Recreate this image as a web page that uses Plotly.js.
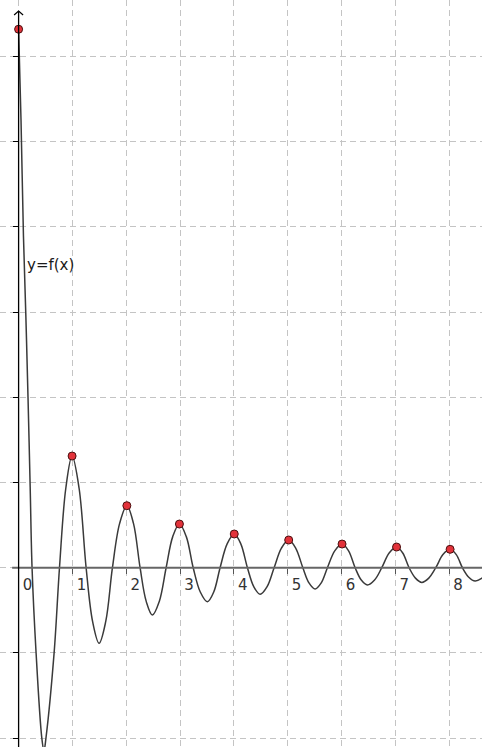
<!DOCTYPE html>
<html>
<head>
<meta charset="utf-8">
<script src="https://cdn.plot.ly/plotly-3.0.1.min.js"></script>
<style>html,body{margin:0;padding:0;background:#fff;}#chart{width:482px;height:747px;}</style>
</head>
<body>
<div id="chart"></div>
<script>
// Curve samples (x, y in grid units)
const curveX = [0, 0.045, 0.09, 0.135, 0.175, 0.215, 0.25, 0.325, 0.43, 0.471, 0.51, 0.66, 0.76, 0.877, 0.994,
  1.125, 1.255, 1.375, 1.496, 1.62, 1.744, 1.878, 2.012, 2.135, 2.258, 2.372, 2.487, 2.615, 2.742,
  2.865, 2.989, 3.117, 3.245, 3.377, 3.509, 3.627, 3.745, 3.876, 4.008, 4.13, 4.253, 4.371, 4.489, 4.619, 4.749,
  4.885, 5.02, 5.15, 5.283, 5.397, 5.511, 5.625, 5.74, 5.876, 6.012, 6.133, 6.255, 6.369, 6.483, 6.616, 6.75,
  6.887, 7.025, 7.14, 7.258, 7.376, 7.494, 7.624, 7.754, 7.887, 8.02, 8.135, 8.249, 8.367, 8.485, 8.62];
const curveY = [6.32, 5.25, 3.9, 2.95, 2.0, 0.95, 0, -1.0, -1.99, -2.15, -1.99, -1.0, 0, 0.93, 1.311,
  0.93, 0, -0.63, -0.887, -0.63, 0, 0.52, 0.728, 0.52, 0, -0.395, -0.555, -0.395, 0,
  0.365, 0.513, 0.365, 0, -0.285, -0.40, -0.285, 0, 0.28, 0.396, 0.28, 0, -0.222, -0.312, -0.222, 0,
  0.23, 0.325, 0.23, 0, -0.178, -0.25, -0.178, 0, 0.198, 0.278, 0.198, 0, -0.145, -0.203, -0.145, 0,
  0.173, 0.243, 0.173, 0, -0.122, -0.172, -0.122, 0, 0.154, 0.216, 0.154, 0, -0.111, -0.156, -0.12];
// Red points (local maxima)
const peakX = [0, 0.994, 2.012, 2.989, 4.008, 5.02, 6.012, 7.025, 8.02];
const peakY = [6.32, 1.311, 0.728, 0.513, 0.396, 0.325, 0.278, 0.243, 0.216];
// Axis ticks
const xTickVals = [0, 1, 2, 3, 4, 5, 6, 7, 8];
const xTickLabels = ['0', '1', '2', '3', '4', '5', '6', '7', '8'];
const yTickVals = [-2, -1, 0, 1, 2, 3, 4, 5, 6];
const curveLabel = 'y=f(x)';

const xRange = [-0.3457, 8.613];
const yRange = [-2.104, 6.663];
const xPos = (0 - yRange[0]) / (yRange[1] - yRange[0]);
const yPos = (0 - xRange[0]) / (xRange[1] - xRange[0]);
const font = 'DejaVu Sans, Verdana, sans-serif';

const traces = [
  {x: curveX, y: curveY, type: 'scatter', mode: 'lines',
   line: {color: '#3a3a3a', width: 1.5, shape: 'spline', smoothing: 1}, hoverinfo: 'skip'},
  {x: peakX, y: peakY, type: 'scatter', mode: 'markers',
   marker: {size: 8, color: '#e2323a', line: {color: '#4a1010', width: 1}}}
];

const layout = {
  width: 482, height: 747,
  margin: {l: 0, r: 0, t: 0, b: 0, pad: 0},
  paper_bgcolor: '#ffffff', plot_bgcolor: '#ffffff',
  showlegend: false,
  xaxis: {
    range: xRange, anchor: 'free', position: xPos,
    tickmode: 'array', tickvals: xTickVals, ticktext: xTickLabels,
    showgrid: true, gridcolor: '#c4c4c4', gridwidth: 1, griddash: '6px,4px',
    zeroline: false, showline: false,
    ticks: 'outside', ticklen: 5, tickwidth: 1, tickcolor: '#555',
    tickfont: {family: font, size: 15, color: '#333'},
    ticklabelshift: 9, ticklabelstandoff: -2, fixedrange: true
  },
  yaxis: {
    range: yRange, anchor: 'free', position: yPos,
    tickmode: 'array', tickvals: yTickVals,
    showgrid: true, gridcolor: '#c4c4c4', gridwidth: 1, griddash: '6px,4px',
    zeroline: false, showline: false, showticklabels: false,
    ticks: 'outside', ticklen: 6, tickwidth: 1, tickcolor: '#000', fixedrange: true
  },
  shapes: [
    {type: 'line', xref: 'x', yref: 'y', x0: -0.12, x1: 8.613, y0: 0, y1: 0,
     line: {color: '#666', width: 2}},
    {type: 'line', xref: 'x', yref: 'y', x0: 0, x1: 0, y0: -2.104, y1: 6.534,
     line: {color: '#000', width: 1.3}},
    {type: 'path', xref: 'x', yref: 'y', path: 'M -0.0836,6.487 L 0,6.534 L 0.0836,6.487',
     line: {color: '#000', width: 1.2}}
  ],
  annotations: [
    {xref: 'x', yref: 'y', x: 0.125, y: 3.55, xanchor: 'left', yanchor: 'middle',
     text: curveLabel, showarrow: false, font: {family: font, size: 15, color: '#1a1a1a'}}
  ]
};

Plotly.newPlot('chart', traces, layout, {displayModeBar: false, staticPlot: true});
</script>
</body>
</html>
